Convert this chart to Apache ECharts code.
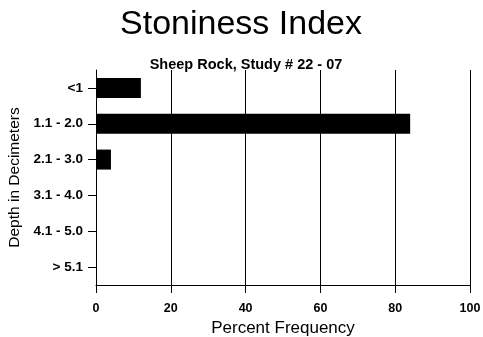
<!DOCTYPE html>
<html>
<head>
<meta charset="utf-8">
<script src="https://cdn.jsdelivr.net/npm/echarts@6/dist/echarts.min.js"></script>
<style>
  html, body { margin: 0; padding: 0; background: #fff; }
  #chart { width: 483px; height: 337px; }
</style>
</head>
<body>
<div id="chart"></div>
<script>
// depth classes, top to bottom
const depthClasses = ['<1', '1.1 - 2.0', '2.1 - 3.0', '3.1 - 4.0', '4.1 - 5.0', '> 5.1'];
const percentValues = [12, 84, 4, 0, 0, 0];
const xTicks = [0, 20, 40, 60, 80, 100];

const chart = echarts.init(document.getElementById('chart'));

chart.setOption({
    animation: false,
    textStyle: { fontFamily: 'Liberation Sans, Arial, sans-serif', color: '#000' },
    title: [
        {
            text: 'Stoniness Index',
            left: 236, top: 3, textAlign: 'center',
            textStyle: { fontSize: 34, fontWeight: 'normal', color: '#000', fontFamily: 'Liberation Sans' }
        },
        {
            text: 'Sheep Rock, Study # 22 - 07',
            left: 241, top: 52, textAlign: 'center',
            textStyle: { fontSize: 14.5, fontWeight: 'bold', color: '#000', fontFamily: 'Liberation Sans' }
        }
    ],
    grid: { left: 96, right: 13, top: 70, bottom: 52, containLabel: false, outerBoundsMode: 'none' },
    xAxis: {
        type: 'value',
        min: xTicks[0], max: xTicks[xTicks.length - 1], interval: 20,
        name: 'Percent Frequency',
        nameLocation: 'middle', nameGap: 33,
        nameTextStyle: { fontSize: 17, color: '#000', fontFamily: 'Liberation Sans' },
        axisLine: { show: true, lineStyle: { color: '#000', width: 1 } },
        axisTick: { show: true, length: 8, lineStyle: { color: '#000' } },
        axisLabel: { fontSize: 12.5, fontWeight: 'bold', color: '#000', margin: 17 },
        splitLine: { show: true, lineStyle: { color: '#000', width: 1 } }
    },
    yAxis: {
        type: 'category',
        data: depthClasses,
        inverse: true,
        name: 'Depth in Decimeters',
        nameLocation: 'middle', nameGap: 73, nameRotate: 90,
        nameTextStyle: { fontSize: 15.5, color: '#000', fontFamily: 'Liberation Sans' },
        axisLine: { show: true, lineStyle: { color: '#000', width: 1 } },
        axisTick: { show: true, alignWithLabel: true, length: 8, lineStyle: { color: '#000' } },
        axisLabel: { fontSize: 13.5, fontWeight: 'bold', color: '#000', margin: 13 },
        splitLine: { show: false }
    },
    series: [{
        type: 'bar',
        data: percentValues,
        barWidth: 20,
        itemStyle: { color: '#000' }
    }]
});
</script>
</body>
</html>
